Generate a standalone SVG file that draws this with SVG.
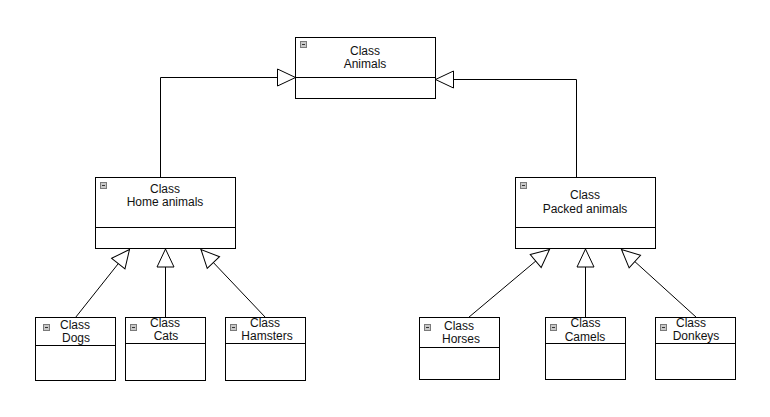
<svg xmlns="http://www.w3.org/2000/svg" width="770" height="417" viewBox="0 0 770 417">
<style>
.box{fill:#fff;stroke:#000;stroke-width:1}
.div{stroke:#000;stroke-width:1}
.ico{fill:#c8c8c8;stroke:#7a7a7a;stroke-width:1}
.icl{stroke:#333;stroke-width:1}
.t{font-family:"Liberation Sans",Arial,sans-serif;font-size:12px;fill:#111;text-anchor:middle}
.c{fill:none;stroke:#000;stroke-width:1}
</style>
<defs>
<marker id="gen" viewBox="0 0 18 18" markerWidth="18" markerHeight="18" refX="18" refY="9" orient="auto" markerUnits="userSpaceOnUse" overflow="visible">
<path d="M0,0.5 L18,9 L0,17.5 Z" fill="#fff" stroke="#000" stroke-width="1"/>
</marker>
</defs>
<rect width="770" height="417" fill="#fff"/>
<g id="connectors">
<polyline class="c" points="160.5,177.5 160.5,77.5 295.5,77.5" marker-end="url(#gen)"/>
<polyline class="c" points="576.5,177.5 576.5,79.5 435.5,79.5" marker-end="url(#gen)"/>
<line class="c" x1="75.5" y1="317.5" x2="129.5" y2="249.5" marker-end="url(#gen)"/>
<line class="c" x1="165.5" y1="317.5" x2="165.5" y2="249" marker-end="url(#gen)"/>
<line class="c" x1="265.5" y1="317.5" x2="201" y2="249.5" marker-end="url(#gen)"/>
<line class="c" x1="468.5" y1="317.5" x2="549.5" y2="249.5" marker-end="url(#gen)"/>
<line class="c" x1="585.5" y1="317.5" x2="585.5" y2="249" marker-end="url(#gen)"/>
<line class="c" x1="696.5" y1="317.5" x2="621.5" y2="249.5" marker-end="url(#gen)"/>
</g>
<g id="animals">
<rect class="box" x="295.5" y="37.5" width="140" height="61"/>
<line class="div" x1="295.5" y1="77.5" x2="435.5" y2="77.5"/>
<rect class="ico" x="300.5" y="41.5" width="6" height="6"/><line class="icl" x1="302" y1="44.5" x2="305" y2="44.5"/>
<text class="t" x="365" y="55">Class</text>
<text class="t" x="365" y="68">Animals</text>
</g>
<g id="home-animals">
<rect class="box" x="95.5" y="177.5" width="140" height="71"/>
<line class="div" x1="95.5" y1="227.5" x2="235.5" y2="227.5"/>
<rect class="ico" x="100.5" y="182.5" width="6" height="6"/><line class="icl" x1="102" y1="185.5" x2="105" y2="185.5"/>
<text class="t" x="165" y="193">Class</text>
<text class="t" x="165" y="206">Home animals</text>
</g>
<g id="packed-animals">
<rect class="box" x="515.5" y="177.5" width="140" height="71"/>
<line class="div" x1="515.5" y1="227.5" x2="655.5" y2="227.5"/>
<rect class="ico" x="520.5" y="182.5" width="6" height="6"/><line class="icl" x1="522" y1="185.5" x2="525" y2="185.5"/>
<text class="t" x="585" y="199">Class</text>
<text class="t" x="585" y="213">Packed animals</text>
</g>
<g id="dogs">
<rect class="box" x="35.5" y="317.5" width="80" height="63"/>
<line class="div" x1="35.5" y1="345.5" x2="115.5" y2="345.5"/>
<rect class="ico" x="43.5" y="324.5" width="6" height="6"/><line class="icl" x1="45" y1="327.5" x2="48" y2="327.5"/>
<text class="t" x="75" y="329">Class</text>
<text class="t" x="76" y="342">Dogs</text>
</g>
<g id="cats">
<rect class="box" x="125.5" y="317.5" width="80" height="63"/>
<line class="div" x1="125.5" y1="343.5" x2="205.5" y2="343.5"/>
<rect class="ico" x="130.5" y="324.5" width="6" height="6"/><line class="icl" x1="132" y1="327.5" x2="135" y2="327.5"/>
<text class="t" x="165" y="327">Class</text>
<text class="t" x="166" y="340">Cats</text>
</g>
<g id="hamsters">
<rect class="box" x="225.5" y="317.5" width="80" height="63"/>
<line class="div" x1="225.5" y1="343.5" x2="305.5" y2="343.5"/>
<rect class="ico" x="230.5" y="324.5" width="6" height="6"/><line class="icl" x1="232" y1="327.5" x2="235" y2="327.5"/>
<text class="t" x="265" y="327">Class</text>
<text class="t" x="267" y="340">Hamsters</text>
</g>
<g id="horses">
<rect class="box" x="419.5" y="317.5" width="80" height="62"/>
<line class="div" x1="419.5" y1="347.5" x2="499.5" y2="347.5"/>
<rect class="ico" x="424.5" y="324.5" width="6" height="6"/><line class="icl" x1="426" y1="327.5" x2="429" y2="327.5"/>
<text class="t" x="459" y="330">Class</text>
<text class="t" x="461" y="343">Horses</text>
</g>
<g id="camels">
<rect class="box" x="545.5" y="317.5" width="80" height="62"/>
<line class="div" x1="545.5" y1="343.5" x2="625.5" y2="343.5"/>
<rect class="ico" x="550.5" y="324.5" width="6" height="6"/><line class="icl" x1="552" y1="327.5" x2="555" y2="327.5"/>
<text class="t" x="585.5" y="327">Class</text>
<text class="t" x="585" y="341">Camels</text>
</g>
<g id="donkeys">
<rect class="box" x="655.5" y="317.5" width="80" height="62"/>
<line class="div" x1="655.5" y1="343.5" x2="735.5" y2="343.5"/>
<rect class="ico" x="660.5" y="324.5" width="6" height="6"/><line class="icl" x1="662" y1="327.5" x2="665" y2="327.5"/>
<text class="t" x="691" y="327">Class</text>
<text class="t" x="696" y="340">Donkeys</text>
</g>
</svg>
